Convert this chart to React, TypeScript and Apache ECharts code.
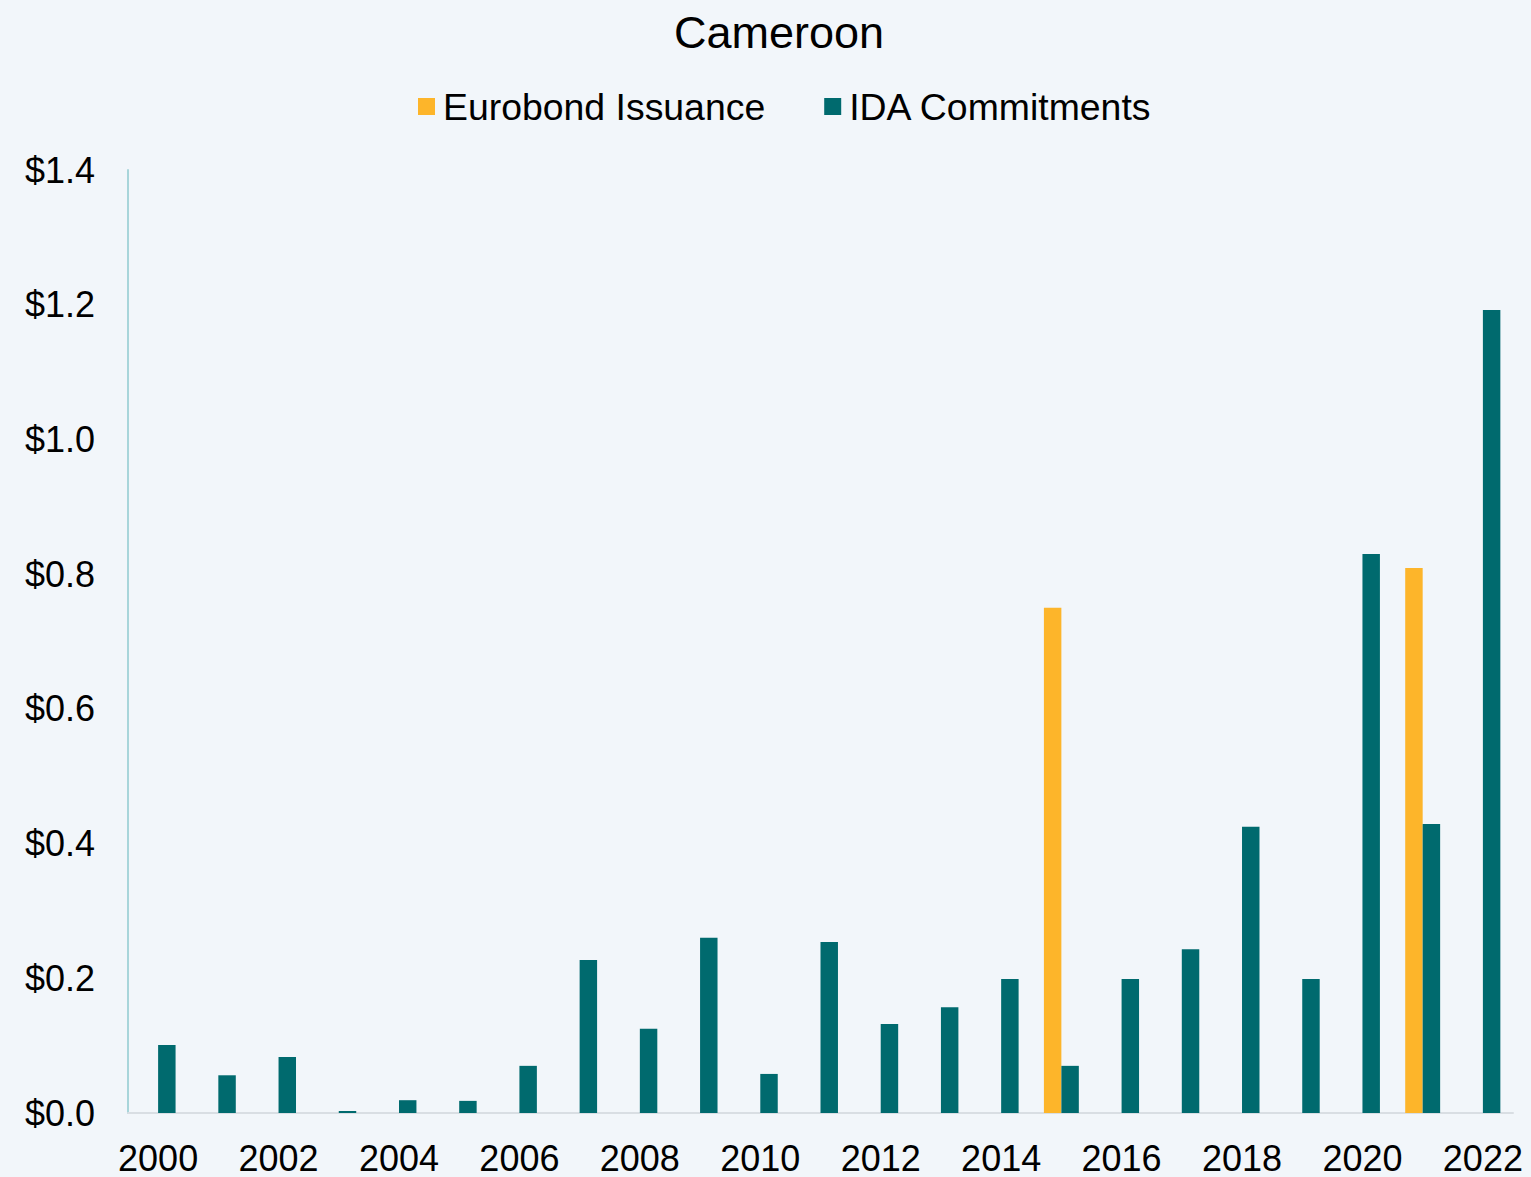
import React, { useEffect, useRef } from "react";
import * as echarts from "echarts";

const years = ["2000","2001","2002","2003","2004","2005","2006","2007","2008","2009","2010","2011","2012","2013","2014","2015","2016","2017","2018","2019","2020","2021","2022"];
const eurobond: (number | null)[] = [null,null,null,null,null,null,null,null,null,null,null,null,null,null,null,0.75,null,null,null,null,null,0.809,null];
const ida = [0.101,0.056,0.083,0.003,0.019,0.018,0.070,0.227,0.125,0.260,0.058,0.254,0.132,0.157,0.199,0.070,0.199,0.243,0.425,0.199,0.830,0.429,1.192];

const FONT = "'Liberation Sans', Arial, sans-serif";

export default function App() {
  const ref = useRef<HTMLDivElement>(null);
  useEffect(() => {
    const chart = echarts.init(ref.current!, null, { renderer: "svg" });
    chart.setOption({
      animation: false,
      backgroundColor: "#F2F6FA",
      title: {
        text: "Cameroon",
        left: 669,
        top: 5,
        textStyle: { fontFamily: FONT, fontSize: 45, fontWeight: "normal", color: "#000" },
      },
      legend: {
        top: 83,
        left: 413,
        itemWidth: 17,
        itemHeight: 17,
        itemGap: 59,
        icon: "rect",
        textStyle: { fontFamily: FONT, fontSize: 37.4, color: "#000", padding: [0, 0, 0, 3] },
        data: ["Eurobond Issuance", "IDA Commitments"],
      },
      grid: { left: 128, right: 18, top: 170, bottom: 64, containLabel: false },
      xAxis: {
        type: "category",
        data: years,
        axisLine: { lineStyle: { color: "#D9DEE3", width: 2 } },
        axisTick: { show: false },
        axisLabel: { interval: 1, fontFamily: FONT, fontSize: 36, color: "#000", margin: 27 },
      },
      yAxis: {
        type: "value",
        min: 0,
        max: 1.4,
        interval: 0.2,
        splitLine: { show: false },
        axisLine: { show: true, lineStyle: { color: "#A8D5DA", width: 2 } },
        axisTick: { show: false },
        axisLabel: {
          fontFamily: FONT,
          fontSize: 36,
          color: "#000",
          margin: 33,
          formatter: (v: number) => "$" + v.toFixed(1),
        },
      },
      series: [
        {
          name: "Eurobond Issuance",
          type: "bar",
          data: eurobond,
          itemStyle: { color: "#FDB52A" },
          barGap: "0%",
          barCategoryGap: "42%",
        },
        {
          name: "IDA Commitments",
          type: "bar",
          data: ida,
          itemStyle: { color: "#006A6E" },
          barGap: "0%",
          barCategoryGap: "42%",
        },
      ],
    });
    return () => chart.dispose();
  }, []);
  return <div ref={ref} style={{ width: 1531, height: 1177, position: "absolute", left: 0, top: 0 }} />;
}
